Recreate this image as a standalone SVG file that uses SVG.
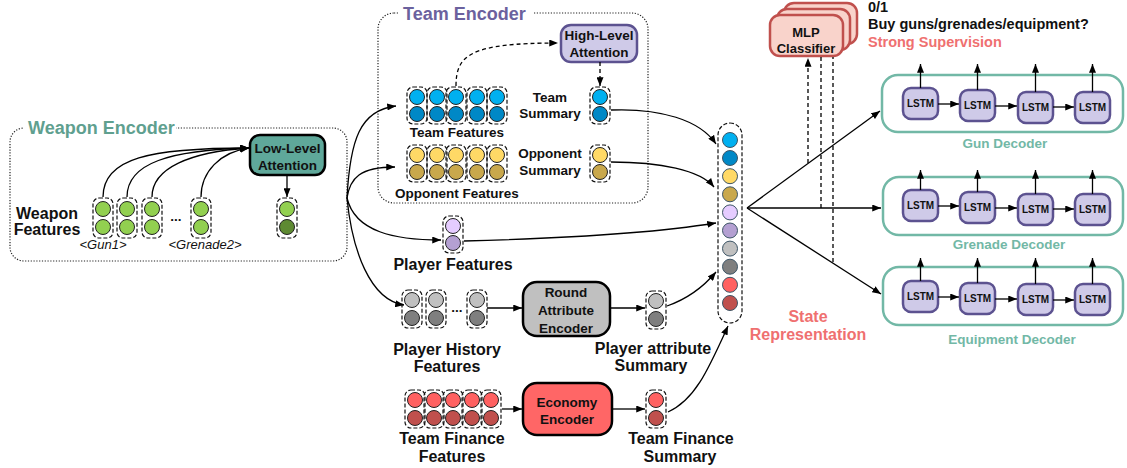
<svg xmlns="http://www.w3.org/2000/svg" width="1127" height="468" viewBox="0 0 1127 468">
<defs>
<style>
.t{font-family:"Liberation Sans",Arial,sans-serif;font-weight:bold;font-size:13.5px;text-anchor:middle;fill:#111}
.b16{font-size:16px}
.it{font-family:"Liberation Sans",Arial,sans-serif;font-style:italic;font-size:13px;text-anchor:middle;fill:#111}
.db{fill:none;stroke:#111;stroke-width:1.2;stroke-dasharray:4 2}
.c{stroke:#222;stroke-width:1}
.sc{stroke:#3d5566;stroke-width:1}
.ln{fill:none;stroke:#000;stroke-width:1.3}
.dl{fill:none;stroke:#000;stroke-width:1.3;stroke-dasharray:4 3}
.dot{fill:none;stroke:#222;stroke-width:1.2;stroke-dasharray:1.2 1.6}
.lstm{fill:#cfcae8;stroke:#5c5290;stroke-width:2.5}
.lt{font-family:"Liberation Sans",Arial,sans-serif;font-weight:bold;font-size:10px;text-anchor:middle;fill:#111}
.dec{fill:none;stroke:#72b8a6;stroke-width:2.5}
.dt{font-family:"Liberation Sans",Arial,sans-serif;font-weight:bold;font-size:13.5px;text-anchor:middle;fill:#72b8a6}
.g1{fill:#92d050}.g2{fill:#5e8a32}
.b1{fill:#00b0f0}.b2{fill:#0088c6}
.y1{fill:#ffd966}.y2{fill:#c9a84c}
.p1{fill:#e5ccff}.p2{fill:#b4a0d2}
.h1{fill:#c0c0c0}.h2{fill:#7f7f7f}
.r1{fill:#ff6161}.r2{fill:#c0504d}
</style>
<marker id="ah" viewBox="0 0 10 8" refX="10" refY="4" markerWidth="9" markerHeight="7" orient="auto" markerUnits="userSpaceOnUse"><path d="M0,0 L10,4 L0,8 z" fill="#000"/></marker>
</defs>
<rect width="1127" height="468" fill="#fff"/>

<!-- Weapon encoder -->
<g id="weapon-encoder">
<rect x="10" y="128" width="337" height="133" rx="14" class="dot"/>
<rect x="24" y="116" width="152" height="22" fill="#fff"/>
<text x="28" y="134" style="font-family:'Liberation Sans',Arial,sans-serif;font-weight:bold;font-size:18px;fill:#5fa08f">Weapon Encoder</text>
</g>
<g id="low-level-attention">
<rect x="250" y="135" width="75" height="40" rx="10" fill="#5fa89a" stroke="#000" stroke-width="2.5"/>
<text class="t" x="287.5" y="153">Low-Level</text>
<text class="t" x="287.5" y="170">Attention</text>
</g>
<g id="weapon-features">
<text class="t b16" x="47" y="219">Weapon</text>
<text class="t b16" x="47" y="235">Features</text>
<rect class="db" x="93" y="198" width="20" height="40" rx="6"/>
<circle class="c g1" cx="103" cy="209" r="7.5"/><circle class="c g1" cx="103" cy="227" r="7.5"/>
<rect class="db" x="117" y="198" width="20" height="40" rx="6"/>
<circle class="c g1" cx="127" cy="209" r="7.5"/><circle class="c g1" cx="127" cy="227" r="7.5"/>
<rect class="db" x="142" y="198" width="20" height="40" rx="6"/>
<circle class="c g1" cx="152" cy="209" r="7.5"/><circle class="c g1" cx="152" cy="227" r="7.5"/>
<text class="t" x="176" y="221">...</text>
<rect class="db" x="191" y="198" width="20" height="40" rx="6"/>
<circle class="c g1" cx="201" cy="209" r="7.5"/><circle class="c g1" cx="201" cy="227" r="7.5"/>
<text class="it" x="103" y="249">&lt;Gun1&gt;</text>
<text class="it" x="205" y="249">&lt;Grenade2&gt;</text>
</g>
<g id="weapon-summary">
<rect class="db" x="277" y="198" width="20" height="40" rx="6"/>
<circle class="c g1" cx="287" cy="209" r="7.5"/><circle class="c g2" cx="287" cy="227" r="7.5"/>
</g>

<!-- Team encoder -->
<g id="team-encoder">
<rect x="378" y="13" width="270" height="190" rx="16" class="dot"/>
<rect x="399" y="2" width="134" height="22" fill="#fff"/>
<text x="403" y="20" style="font-family:'Liberation Sans',Arial,sans-serif;font-weight:bold;font-size:18px;fill:#6b619e">Team Encoder</text>
</g>
<g id="high-level-attention">
<rect x="561" y="25" width="76" height="37" rx="10" fill="#cfcae8" stroke="#5c5290" stroke-width="2.5"/>
<text class="t" x="599" y="40">High-Level</text>
<text class="t" x="599" y="57">Attention</text>
</g>
<g id="team-features">
<rect class="db" x="407" y="87" width="20" height="37" rx="6"/><circle class="c b1" cx="417" cy="97" r="7.5"/><circle class="c b2" cx="417" cy="114" r="7.5"/>
<rect class="db" x="427" y="87" width="20" height="37" rx="6"/><circle class="c b1" cx="437" cy="97" r="7.5"/><circle class="c b2" cx="437" cy="114" r="7.5"/>
<rect class="db" x="446" y="87" width="20" height="37" rx="6"/><circle class="c b1" cx="456" cy="97" r="7.5"/><circle class="c b2" cx="456" cy="114" r="7.5"/>
<rect class="db" x="467" y="87" width="20" height="37" rx="6"/><circle class="c b1" cx="477" cy="97" r="7.5"/><circle class="c b2" cx="477" cy="114" r="7.5"/>
<rect class="db" x="487" y="87" width="20" height="37" rx="6"/><circle class="c b1" cx="497" cy="97" r="7.5"/><circle class="c b2" cx="497" cy="114" r="7.5"/>
<text class="t" x="457" y="137">Team Features</text>
</g>
<g id="team-summary">
<rect class="db" x="590" y="87" width="20" height="37" rx="6"/><circle class="c b1" cx="600" cy="97" r="7.5"/><circle class="c b2" cx="600" cy="114" r="7.5"/>
<text class="t" x="550" y="102">Team</text>
<text class="t" x="550" y="118">Summary</text>
</g>
<g id="opponent-features">
<rect class="db" x="407" y="145" width="20" height="37" rx="6"/><circle class="c y1" cx="417" cy="155" r="7.5"/><circle class="c y2" cx="417" cy="172" r="7.5"/>
<rect class="db" x="427" y="145" width="20" height="37" rx="6"/><circle class="c y1" cx="437" cy="155" r="7.5"/><circle class="c y2" cx="437" cy="172" r="7.5"/>
<rect class="db" x="446" y="145" width="20" height="37" rx="6"/><circle class="c y1" cx="456" cy="155" r="7.5"/><circle class="c y2" cx="456" cy="172" r="7.5"/>
<rect class="db" x="467" y="145" width="20" height="37" rx="6"/><circle class="c y1" cx="477" cy="155" r="7.5"/><circle class="c y2" cx="477" cy="172" r="7.5"/>
<rect class="db" x="487" y="145" width="20" height="37" rx="6"/><circle class="c y1" cx="497" cy="155" r="7.5"/><circle class="c y2" cx="497" cy="172" r="7.5"/>
<text class="t" x="457" y="198">Opponent Features</text>
</g>
<g id="opponent-summary">
<rect class="db" x="590" y="145" width="20" height="37" rx="6"/><circle class="c y1" cx="600" cy="155" r="7.5"/><circle class="c y2" cx="600" cy="172" r="7.5"/>
<text class="t" x="550" y="158">Opponent</text>
<text class="t" x="550" y="175">Summary</text>
</g>

<!-- Player features -->
<g id="player-features">
<rect class="db" x="443" y="216" width="20" height="37" rx="6"/><circle class="c p1" cx="453" cy="226" r="7.5"/><circle class="c p2" cx="453" cy="243" r="7.5"/>
<text class="t b16" x="453" y="270">Player Features</text>
</g>
<g id="player-history">
<rect class="db" x="402" y="290" width="20" height="38" rx="6"/><circle class="c h1" cx="412" cy="300" r="7.5"/><circle class="c h2" cx="412" cy="318" r="7.5"/>
<rect class="db" x="426" y="290" width="20" height="38" rx="6"/><circle class="c h1" cx="436" cy="300" r="7.5"/><circle class="c h2" cx="436" cy="318" r="7.5"/>
<text class="t" x="457" y="312">...</text>
<rect class="db" x="467" y="290" width="20" height="38" rx="6"/><circle class="c h1" cx="477" cy="300" r="7.5"/><circle class="c h2" cx="477" cy="318" r="7.5"/>
<text class="t b16" x="447" y="355">Player History</text>
<text class="t b16" x="447" y="372">Features</text>
</g>
<g id="round-attribute-encoder">
<rect x="523" y="282" width="87" height="54" rx="14" fill="#c0c0c0" stroke="#000" stroke-width="2.5"/>
<text class="t" x="566" y="297">Round</text>
<text class="t" x="566" y="315">Attribute</text>
<text class="t" x="566" y="333">Encoder</text>
</g>
<g id="player-attribute-summary">
<rect class="db" x="646" y="291" width="20" height="38" rx="6"/><circle class="c h1" cx="656" cy="301" r="7.5"/><circle class="c h2" cx="656" cy="319" r="7.5"/>
<text class="t b16" x="653" y="354">Player attribute</text>
<text class="t b16" x="651" y="371">Summary</text>
</g>

<!-- Economy -->
<g id="team-finance-features">
<rect class="db" x="405" y="390" width="20" height="38" rx="6"/><circle class="c r1" cx="415" cy="400" r="7.5"/><circle class="c r2" cx="415" cy="418" r="7.5"/>
<rect class="db" x="424" y="390" width="20" height="38" rx="6"/><circle class="c r1" cx="434" cy="400" r="7.5"/><circle class="c r2" cx="434" cy="418" r="7.5"/>
<rect class="db" x="443" y="390" width="20" height="38" rx="6"/><circle class="c r1" cx="453" cy="400" r="7.5"/><circle class="c r2" cx="453" cy="418" r="7.5"/>
<rect class="db" x="462" y="390" width="20" height="38" rx="6"/><circle class="c r1" cx="472" cy="400" r="7.5"/><circle class="c r2" cx="472" cy="418" r="7.5"/>
<rect class="db" x="481" y="390" width="20" height="38" rx="6"/><circle class="c r1" cx="491" cy="400" r="7.5"/><circle class="c r2" cx="491" cy="418" r="7.5"/>
<text class="t b16" x="452" y="444">Team Finance</text>
<text class="t b16" x="452" y="462">Features</text>
</g>
<g id="economy-encoder">
<rect x="523" y="383" width="89" height="52" rx="14" fill="#ff6666" stroke="#000" stroke-width="2.5"/>
<text class="t" x="567" y="407">Economy</text>
<text class="t" x="567" y="424">Encoder</text>
</g>
<g id="team-finance-summary">
<rect class="db" x="646" y="390" width="20" height="38" rx="6"/><circle class="c r1" cx="656" cy="400" r="7.5"/><circle class="c r2" cx="656" cy="418" r="7.5"/>
<text class="t b16" x="681" y="444">Team Finance</text>
<text class="t b16" x="680" y="462">Summary</text>
</g>

<!-- State representation -->
<g id="state-representation">
<rect class="db" x="718" y="123" width="24" height="200" rx="12"/>
<circle class="sc b1" cx="730" cy="140" r="7.5"/>
<circle class="sc b2" cx="730" cy="158" r="7.5"/>
<circle class="sc y1" cx="730" cy="176.2" r="7.5"/>
<circle class="sc y2" cx="730" cy="194.3" r="7.5"/>
<circle class="sc p1" cx="730" cy="212.4" r="7.5"/>
<circle class="sc p2" cx="730" cy="230.5" r="7.5"/>
<circle class="sc h1" cx="730" cy="248.6" r="7.5"/>
<circle class="sc h2" cx="730" cy="266.7" r="7.5"/>
<circle class="sc r1" cx="730" cy="284.8" r="7.5"/>
<circle class="sc r2" cx="730" cy="303" r="7.5"/>
<text class="t b16" x="808" y="322" style="fill:#ef7070">State</text>
<text class="t b16" x="808" y="340" style="fill:#ef7070">Representation</text>
</g>

<!-- MLP classifier -->
<g id="mlp-classifier">
<rect x="784" y="3" width="73" height="41" rx="10" fill="#f9d3cb" stroke="#c0504d" stroke-width="2.5"/>
<rect x="777" y="9" width="73" height="41" rx="10" fill="#f9d3cb" stroke="#c0504d" stroke-width="2.5"/>
<rect x="770" y="15" width="73" height="41" rx="10" fill="#f9d3cb" stroke="#c0504d" stroke-width="2.5"/>
<text class="t" x="806" y="37" style="font-size:13px">MLP</text>
<text class="t" x="806" y="53" style="font-size:13px">Classifier</text>
</g>
<g id="supervision-labels">
<text class="t" x="868" y="12" style="text-anchor:start;font-size:14.5px">0/1</text>
<text class="t" x="868" y="29" style="text-anchor:start;font-size:14.5px">Buy guns/grenades/equipment?</text>
<text class="t" x="868" y="47" style="text-anchor:start;font-size:14.5px;fill:#ef7070">Strong Supervision</text>
</g>

<!-- Decoders -->
<g id="gun-decoder">
<rect class="dec" x="882" y="75" width="241" height="57" rx="16"/>
<rect class="lstm" x="903" y="88" width="35" height="31" rx="8"/><text class="lt" x="920.5" y="107">LSTM</text>
<rect class="lstm" x="960" y="90" width="35" height="31" rx="8"/><text class="lt" x="977.5" y="109">LSTM</text>
<rect class="lstm" x="1018" y="92" width="35" height="31" rx="8"/><text class="lt" x="1035.5" y="111">LSTM</text>
<rect class="lstm" x="1075" y="92" width="35" height="31" rx="8"/><text class="lt" x="1092.5" y="111">LSTM</text>
<text class="dt" x="1005" y="148">Gun Decoder</text>
</g>
<g id="grenade-decoder">
<rect class="dec" x="883" y="177" width="240" height="58" rx="16"/>
<rect class="lstm" x="903" y="190" width="35" height="31" rx="8"/><text class="lt" x="920.5" y="209">LSTM</text>
<rect class="lstm" x="960" y="192" width="35" height="31" rx="8"/><text class="lt" x="977.5" y="211">LSTM</text>
<rect class="lstm" x="1018" y="194" width="35" height="31" rx="8"/><text class="lt" x="1035.5" y="213">LSTM</text>
<rect class="lstm" x="1075" y="194" width="35" height="31" rx="8"/><text class="lt" x="1092.5" y="213">LSTM</text>
<text class="dt" x="1009" y="249">Grenade Decoder</text>
</g>
<g id="equipment-decoder">
<rect class="dec" x="883" y="267" width="240" height="58" rx="16"/>
<rect class="lstm" x="903" y="281" width="35" height="31" rx="8"/><text class="lt" x="920.5" y="300">LSTM</text>
<rect class="lstm" x="960" y="283" width="35" height="31" rx="8"/><text class="lt" x="977.5" y="302">LSTM</text>
<rect class="lstm" x="1018" y="284" width="35" height="31" rx="8"/><text class="lt" x="1035.5" y="303">LSTM</text>
<rect class="lstm" x="1075" y="284" width="35" height="31" rx="8"/><text class="lt" x="1092.5" y="303">LSTM</text>
<text class="dt" x="1012" y="344">Equipment Decoder</text>
</g>

<!-- Connectors -->
<g id="connectors">
<path class="ln" d="M103,197 C103,158 150,148 249,148" marker-end="url(#ah)"/>
<path class="ln" d="M127,197 C127,163 170,150 249,148" marker-end="url(#ah)"/>
<path class="ln" d="M152,197 C152,168 190,152 249,148" marker-end="url(#ah)"/>
<path class="ln" d="M201,197 C201,172 220,152 249,148" marker-end="url(#ah)"/>
<path class="ln" d="M287,175 L287,197" marker-end="url(#ah)"/>

<path class="ln" d="M347,198 C350,140 360,110 396,106" marker-end="url(#ah)"/>
<path class="ln" d="M347,198 C350,178 360,167 395,167" marker-end="url(#ah)"/>
<path class="ln" d="M347,198 C355,232 395,240 441,240" marker-end="url(#ah)"/>
<path class="ln" d="M347,198 C352,250 370,300 404,305" marker-end="url(#ah)"/>

<path class="dl" d="M456,86 C456,55 470,43 558,43" marker-end="url(#ah)"/>
<path class="dl" d="M600,62 L600,86" marker-end="url(#ah)"/>

<path class="ln" d="M611,110 C660,108 700,120 716,144" marker-end="url(#ah)"/>
<path class="ln" d="M611,162 C660,162 700,170 714,187" marker-end="url(#ah)"/>
<path class="ln" d="M464,241 C580,238 660,232 716,223" marker-end="url(#ah)"/>
<path class="ln" d="M487,308 L522,308" marker-end="url(#ah)"/>
<path class="ln" d="M610,308 L645,308" marker-end="url(#ah)"/>
<path class="ln" d="M667,306 C690,298 705,285 716,272" marker-end="url(#ah)"/>
<path class="ln" d="M502,409 L522,409" marker-end="url(#ah)"/>
<path class="ln" d="M613,409 L645,409" marker-end="url(#ah)"/>
<path class="ln" d="M668,412 C695,400 708,370 728,326" marker-end="url(#ah)"/>

<path class="ln" d="M747,208 L880,111" marker-end="url(#ah)"/>
<path class="ln" d="M747,208 L881,208" marker-end="url(#ah)"/>
<path class="ln" d="M747,208 L881,294" marker-end="url(#ah)"/>
<path class="dl" d="M808,163 L808,58" marker-end="url(#ah)"/>
<path class="dl" d="M821,208 L821,57"/>
<path class="dl" d="M833,262 L833,57"/>

<path class="ln" d="M920.5,88 L920.5,64" marker-end="url(#ah)"/>
<path class="ln" d="M977.5,90 L977.5,64" marker-end="url(#ah)"/>
<path class="ln" d="M1035.5,92 L1035.5,64" marker-end="url(#ah)"/>
<path class="ln" d="M1092.5,92 L1092.5,64" marker-end="url(#ah)"/>
<path class="ln" d="M938,104 L959,104" marker-end="url(#ah)"/>
<path class="ln" d="M995,106 L1017,106" marker-end="url(#ah)"/>
<path class="ln" d="M1053,107 L1074,107" marker-end="url(#ah)"/>

<path class="ln" d="M920.5,190 L920.5,170" marker-end="url(#ah)"/>
<path class="ln" d="M977.5,192 L977.5,170" marker-end="url(#ah)"/>
<path class="ln" d="M1035.5,194 L1035.5,170" marker-end="url(#ah)"/>
<path class="ln" d="M1092.5,194 L1092.5,170" marker-end="url(#ah)"/>
<path class="ln" d="M938,206 L959,206" marker-end="url(#ah)"/>
<path class="ln" d="M995,208 L1017,208" marker-end="url(#ah)"/>
<path class="ln" d="M1053,209 L1074,209" marker-end="url(#ah)"/>

<path class="ln" d="M920.5,281 L920.5,258" marker-end="url(#ah)"/>
<path class="ln" d="M977.5,283 L977.5,258" marker-end="url(#ah)"/>
<path class="ln" d="M1035.5,284 L1035.5,258" marker-end="url(#ah)"/>
<path class="ln" d="M1092.5,284 L1092.5,258" marker-end="url(#ah)"/>
<path class="ln" d="M938,297 L959,297" marker-end="url(#ah)"/>
<path class="ln" d="M995,299 L1017,299" marker-end="url(#ah)"/>
<path class="ln" d="M1053,300 L1074,300" marker-end="url(#ah)"/>
</g>
</svg>
